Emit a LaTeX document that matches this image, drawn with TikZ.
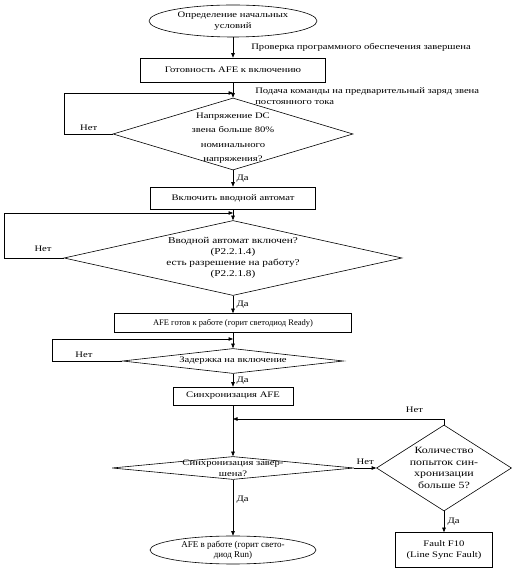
\documentclass[tikz,border=0pt]{standalone}
\usepackage{fontspec}
\setmainfont[FakeStretch=1.25]{Liberation Serif}
\newfontfamily\narrowf{Liberation Serif}
\usetikzlibrary{shapes.geometric,arrows.meta}
\begin{document}
\begin{tikzpicture}[x=1pt,y=1pt,font=\fontsize{8.5}{11.5}\selectfont,line width=0.6pt,
  >={Triangle[length=4.5pt,width=3.5pt]},
  blk/.style={draw,rectangle,inner sep=0pt,align=center},
  dec/.style={draw,diamond,inner sep=0pt},
  ov/.style={draw,ellipse,inner sep=0pt,align=center},
  nt/.style={inner sep=0pt,align=left}]
  \useasboundingbox (0,0) rectangle (517,578);
  \node[ov,minimum width=168,minimum height=32] (s0) at (233,557){Определение начальных\\условий};
  \node[nt,anchor=west] (n1) at (251,531){Проверка программного обеспечения завершена};
  \node[blk,minimum width=185,minimum height=24] (b1) at (233,508){Готовность AFE к включению};
  \node[nt,anchor=north west] (n2) at (255,491){Подача команды на предварительный заряд звена\\постоянного тока};
  \node[dec,minimum width=240,minimum height=72,label={[align=center,yshift=-4pt,font=\fontsize{8.5}{14.5}\selectfont]center:Напряжение DC\\звена больше 80\%\\номинального\\напряжения?}] (d1) at (233,444){};
  \node[blk,minimum width=165,minimum height=22] (b2) at (233,380){Включить вводной автомат};
  \node[dec,minimum width=338,minimum height=75,label={[align=center,font=\fontsize{9}{11}\selectfont]center:Вводной автомат включен?\\(P2.2.1.4)\\есть разрешение на работу?\\(P2.2.1.8)}] (d2) at (233,320){};
  \node[blk,minimum width=237,minimum height=19,font=\narrowf\fontsize{8.5}{10}\selectfont] (b3) at (233,255){AFE готов к работе (горит светодиод Ready)};
  \node[dec,minimum width=221,minimum height=25,label=center:Задержка на включение] (d3) at (233,217){};
  \node[blk,minimum width=120,minimum height=18] (b4) at (233,182){Синхронизация AFE};
  \coordinate (jn) at (233,159);
  \node[dec,minimum width=242,minimum height=23,label={[align=center]center:Синхронизация завер-\\шена?}] (d5) at (233,110){};
  \node[dec,minimum width=135,minimum height=86,label={[align=center,font=\fontsize{9.5}{11.5}\selectfont]center:Количество\\попыток син-\\хронизации\\больше 5?}] (d4) at (444,110){};
  \node[blk,minimum width=97,minimum height=35,font=\fontsize{8.5}{10.5}\selectfont] (b5) at (444,28){Fault F10\\(Line Sync Fault)};
  \node[ov,minimum width=166,minimum height=28,font=\narrowf\fontsize{9}{10.5}\selectfont] (e1) at (233,28){AFE в работе (горит свето-\\диод Run)};
  % main column
  \draw[->] (s0) -- (b1);
  \draw[->] (b1) -- (d1);
  \draw[->] (d1) -- node[right]{Да} (b2);
  \draw[->] (b2) -- (d2);
  \draw[->] (d2) -- node[right]{Да} (b3);
  \draw[->] (b3) -- (d3);
  \draw[->] (d3) -- node[right]{Да} (b4);
  \draw (b4) -- (jn);
  \draw[->] (jn) -- (d5);
  \draw[->] (d5) -- node[right,pos=.35]{Да} (e1);
  % loops back
  \draw[->] (d1.west) -- node[above,pos=.5]{Нет} ++(-48,0) |- (233,485);
  \draw[->] (d2.west) -- node[above=3pt,pos=.35]{Нет} ++(-59,0) |- (233,365);
  \draw[->] (d3.west) -- node[above,pos=.55]{Нет} ++(-69.5,0) |- (233,239);
  \draw[->] (d5.east) -- node[above]{Нет} (d4.west);
  \draw[->] (d4.north) |- node[above=3pt,pos=.57]{Нет} (jn);
  \draw[->] (d4) -- node[right]{Да} (b5);
\end{tikzpicture}
\end{document}
